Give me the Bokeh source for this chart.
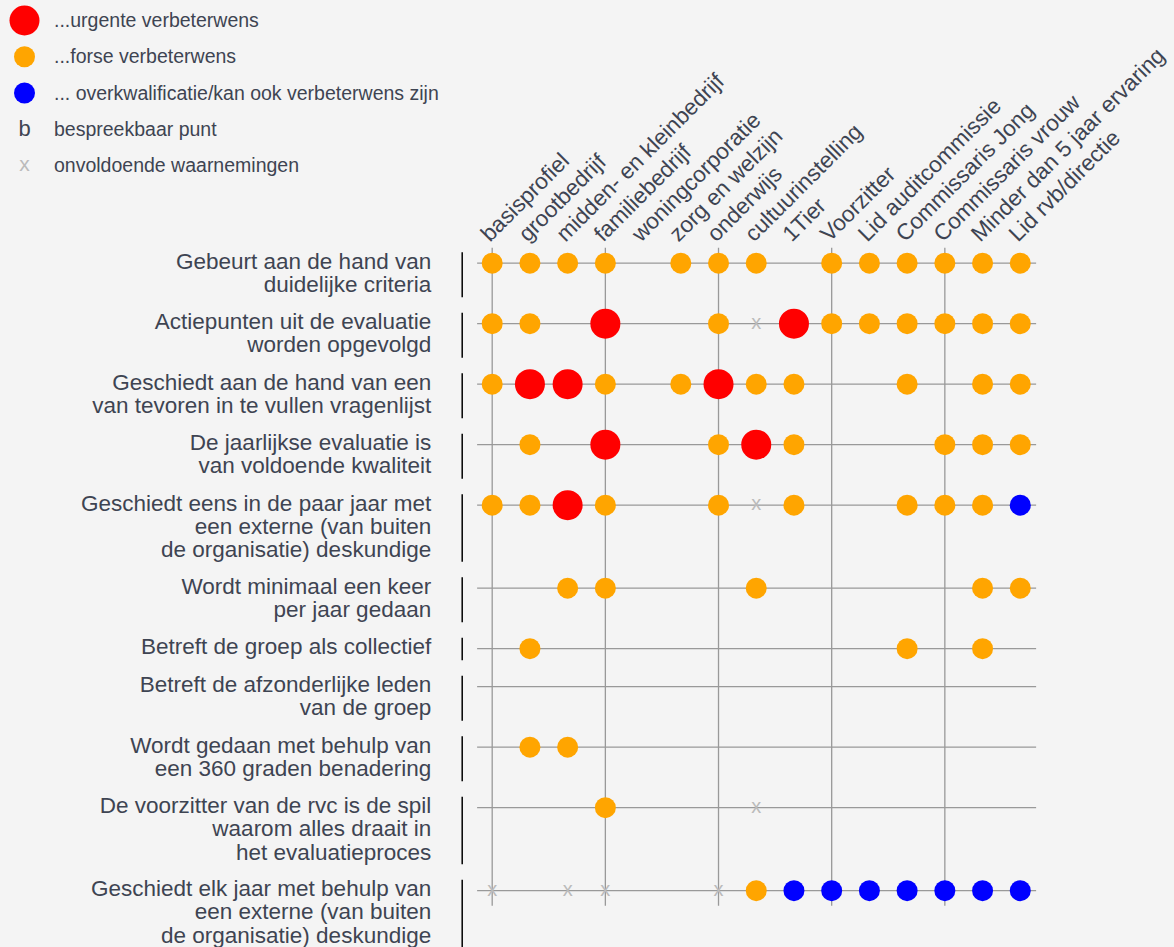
import math
from bokeh.plotting import figure
from bokeh.models import Range1d
from bokeh.core.properties import value
from bokeh.embed import file_html
from bokeh.resources import INLINE

# ---------------- data ----------------
columns = ["basisprofiel", "grootbedrijf", "midden- en kleinbedrijf", "familiebedrijf",
           "woningcorporatie", "zorg en welzijn", "onderwijs", "cultuurinstelling", "1Tier",
           "Voorzitter", "Lid auditcommissie", "Commissaris Jong", "Commissaris vrouw",
           "Minder dan 5 jaar ervaring", "Lid rvb/directie"]

rows = [
    "Gebeurt aan de hand van\nduidelijke criteria",
    "Actiepunten uit de evaluatie\nworden opgevolgd",
    "Geschiedt aan de hand van een\nvan tevoren in te vullen vragenlijst",
    "De jaarlijkse evaluatie is\nvan voldoende kwaliteit",
    "Geschiedt eens in de paar jaar met\neen externe (van buiten\nde organisatie) deskundige",
    "Wordt minimaal een keer\nper jaar gedaan",
    "Betreft de groep als collectief",
    "Betreft de afzonderlijke leden\nvan de groep",
    "Wordt gedaan met behulp van\neen 360 graden benadering",
    "De voorzitter van de rvc is de spil\nwaarom alles draait in\nhet evaluatieproces",
    "Geschiedt elk jaar met behulp van\neen externe (van buiten\nde organisatie) deskundige",
]

# r = urgent, o = forse, b = overkwalificatie, x = onvoldoende waarnemingen, . = none
cells = [
    "oooo.ooo.oooooo",
    "oo.r..oxroooooo",
    "orro.oroo..o.oo",
    ".o.r..oro...ooo",
    "ooro..oxo..ooob",
    "..oo...o.....oo",
    ".o.........o.o.",
    "...............",
    ".oo............",
    "...o...x.......",
    "x.xx..xobbbbbbb",
]

legend_labels = ["...urgente verbeterwens", "...forse verbeterwens",
                 "... overkwalificatie/kan ook verbeterwens zijn",
                 "bespreekbaar punt", "onvoldoende waarnemingen"]

# ---------------- style ----------------
BG = "#f4f4f4"
TXT = "#3e4452"
GRID = "#999999"
XCOL = "#bbbbbb"
FONT = value("Liberation Sans")
COLORS = {"r": "#ff0000", "o": "#ffa500", "b": "#0000ff"}
SIZES = {"r": 30, "o": 21, "b": 21}

W, H = 1174, 947
COL0 = 491.7      # page px of first column
STEP = 37.72      # px per column


def ix(px):
    """page pixel x -> data x (column index units)"""
    return (px - COL0) / STEP


p = figure(width=W, height=H, output_backend="svg", toolbar_location=None,
           x_range=Range1d(ix(0), ix(W)), y_range=Range1d(H, 0),
           min_border=0, outline_line_color=None,
           background_fill_color=BG, border_fill_color=BG)
p.axis.visible = False
p.grid.visible = False

# row positions (page px) derived from the number of label lines
nlines = [r.count("\n") + 1 for r in rows]
row_y = []
y = 262.7
for n in nlines:
    row_y.append(y)
    y += 15.5 + 22.5 * n

ncol = len(columns)

# horizontal row lines
p.segment(x0=[-0.4] * len(rows), x1=[ncol - 1 + 0.42] * len(rows), y0=row_y, y1=row_y,
          line_color=GRID, line_width=1.3)
# vertical grid lines every third column
vx = list(range(0, ncol, 3))
p.segment(x0=vx, x1=vx, y0=[row_y[0] - 15.5] * len(vx), y1=[row_y[-1] + 15] * len(vx),
          line_color=GRID, line_width=1.3)

# row bracket bars
p.segment(x0=[ix(461.7)] * len(rows), x1=[ix(461.7)] * len(rows),
          y0=[ry - 11 for ry in row_y],
          y1=[ry - 11 + 22.5 * n for ry, n in zip(row_y, nlines)],
          line_color="black", line_width=1.5)

# row labels
lx, ly, lt = [], [], []
for ry, lab in zip(row_y, rows):
    for k, line in enumerate(lab.split("\n")):
        lx.append(ix(430.7))
        ly.append(ry - 2 + 23.2 * k)
        lt.append(line)
p.text(x=lx, y=ly, text=lt, text_align="right", text_baseline="alphabetic",
       text_font=FONT, text_font_size="22.5px", text_color=TXT)

# column labels (rotated)
p.text(x=[i - 7.5 / STEP for i in range(ncol)], y=[237] * ncol, text=columns,
       angle=math.pi / 4, text_align="left", text_baseline="alphabetic",
       text_font=FONT, text_font_size="22.5px", text_color=TXT)

# marks
for code in ["o", "b", "r"]:
    xs, ys = [], []
    for ry, rowcells in zip(row_y, cells):
        for i, c in enumerate(rowcells):
            if c == code:
                xs.append(i)
                ys.append(ry)
    if xs:
        p.scatter(x=xs, y=ys, size=SIZES[code], fill_color=COLORS[code], line_color=None)

xs, ys = [], []
for ry, rowcells in zip(row_y, cells):
    for i, c in enumerate(rowcells):
        if c == "x":
            xs.append(i)
            ys.append(ry - 2)
p.text(x=xs, y=ys, text=["x"] * len(xs), text_align="center", text_baseline="middle",
       text_font=FONT, text_font_size="20px", text_color=XCOL)

# legend
leg_y = [20 + 36.25 * k for k in range(len(legend_labels))]
p.scatter(x=[ix(24)] * 3, y=leg_y[:3], size=[30, 21, 21],
          fill_color=[COLORS["r"], COLORS["o"], COLORS["b"]], line_color=None)
p.text(x=[ix(24)], y=[leg_y[3] - 0.5], text=["b"], text_align="center", text_baseline="alphabetic",
       text_font=FONT, text_font_size="22px", text_color=TXT)
p.text(x=[ix(24)], y=[leg_y[4] - 2], text=["x"], text_align="center", text_baseline="middle",
       text_font=FONT, text_font_size="21px", text_color=XCOL)
p.text(x=[ix(53.5)] * len(legend_labels), y=[ly_ - 0.5 for ly_ in leg_y], text=legend_labels,
       text_align="left", text_baseline="alphabetic",
       text_font=FONT, text_font_size="19.5px", text_color=TXT)

html = None
try:
    from bokeh.core.templates import get_env
    tmpl = get_env().from_string(
        '{% extends "file.html" %}{% block inner_head %}{{ super() }}'
        '<style>body{background:' + BG + ';}</style>{% endblock %}')
    html = file_html(p, INLINE, template=tmpl)
except Exception:
    html = file_html(p, INLINE)
open("out.html", "w").write(html)
